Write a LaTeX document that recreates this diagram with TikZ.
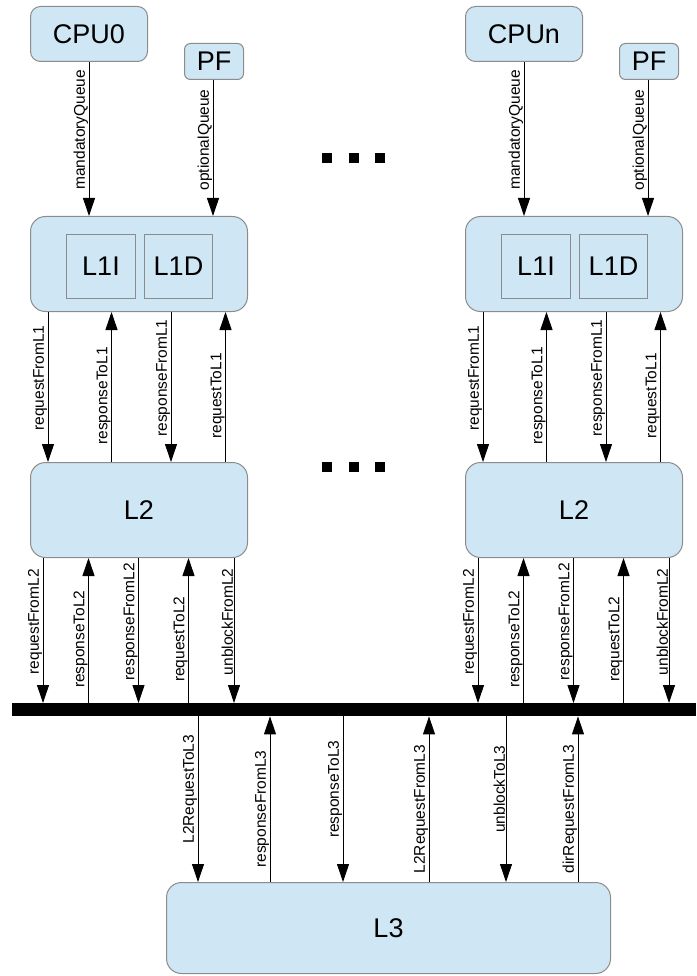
\documentclass[tikz,border=0pt]{standalone}
\usepackage{fontspec}
\setmainfont{Liberation Sans}
\usepackage{tikz}
\usetikzlibrary{arrows.meta}
\usetikzlibrary{positioning}
\definecolor{cachefill}{HTML}{CFE6F4}
\definecolor{cacheline}{HTML}{8C8C8C}

\begin{document}
\begin{tikzpicture}
          [x=1pt, y=1pt,
           cache/.style={draw=cacheline, fill=cachefill, line width=1pt, rounded corners=15pt,
                         inner sep=0pt, font=\fontsize{27}{32}\selectfont},
           bank/.style={draw=cacheline, fill=cachefill, line width=1pt, inner sep=0pt,
                        minimum height=64pt, font=\fontsize{27}{32}\selectfont},
           msg/.style={draw=black, line width=0.9pt, -{Triangle[length=18pt, width=12pt]}},
           lbl/.style={pos=.44, rotate=90, anchor=south, inner sep=1pt, outer sep=0pt,
                       font=\fontsize{15.5}{18}\selectfont}]
          \useasboundingbox (0,0) rectangle (696,-976);

          % shared bus and L3
          \node (bus) [fill=black, inner sep=0pt, minimum width=684pt, minimum height=13pt, anchor=north west] at (12,-703) {};
          \node (L3) [cache, minimum width=444pt, minimum height=91pt, anchor=north west] at (166,-882) {L3};

          \foreach \c/\cpu/\x in {a/CPU0/30, b/CPUn/465} {
            \node (cpu\c) [cache, rounded corners=10pt, minimum width=117pt, minimum height=55pt, anchor=north west] at (\x,-6) {\cpu};
            \node (pf\c) [cache, rounded corners=6pt, minimum width=59pt, minimum height=36pt, anchor=north west] at ({\x+154},-43) {PF};
            \node (L1\c) [cache, minimum width=217pt, minimum height=95pt, below=154pt of cpu\c.south west, anchor=north west] {};
            \node (l1i\c) [bank, minimum width=69pt, below right=18pt and 36pt of L1\c.north west] {L1I};
            \node (l1d\c) [bank, minimum width=68pt, right=8pt of l1i\c] {L1D};
            \node (L2\c) [cache, minimum width=217pt, minimum height=95pt, below=150pt of L1\c] {L2};

            \draw[msg] (cpu\c.south) -- (cpu\c.south |- L1\c.north) node[lbl] {mandatoryQueue};
            \draw[msg] ([xshift=-1pt]pf\c.south) -- ([xshift=-1pt]pf\c.south |- L1\c.north) node[lbl] {optionalQueue};

            \draw[msg] ([xshift=18pt]L1\c.south west) -- ([xshift=18pt]L1\c.south west |- L2\c.north) node[lbl] {requestFromL1};
            \draw[msg] ([xshift=81.5pt]L1\c.south west |- L2\c.north) -- ([xshift=81.5pt]L1\c.south west) node[lbl] {responseToL1};
            \draw[msg] ([xshift=141pt]L1\c.south west) -- ([xshift=141pt]L1\c.south west |- L2\c.north) node[lbl] {responseFromL1};
            \draw[msg] ([xshift=195.5pt]L1\c.south west |- L2\c.north) -- ([xshift=195.5pt]L1\c.south west) node[lbl] {requestToL1};

            \draw[msg] ([xshift=13pt]L2\c.south west) -- ([xshift=13pt]L2\c.south west |- bus.north) node[lbl] {requestFromL2};
            \draw[msg] ([xshift=58.5pt]L2\c.south west |- bus.north) -- ([xshift=58.5pt]L2\c.south west) node[lbl] {responseToL2};
            \draw[msg] ([xshift=108.5pt]L2\c.south west) -- ([xshift=108.5pt]L2\c.south west |- bus.north) node[lbl] {responseFromL2};
            \draw[msg] ([xshift=158.5pt]L2\c.south west |- bus.north) -- ([xshift=158.5pt]L2\c.south west) node[lbl] {requestToL2};
            \draw[msg] ([xshift=204pt]L2\c.south west) -- ([xshift=204pt]L2\c.south west |- bus.north) node[lbl] {unblockFromL2};
          }

          \draw[msg] ([xshift=32pt]L3.north west |- bus.south) -- ([xshift=32pt]L3.north west) node[lbl] {L2RequestToL3};
          \draw[msg] ([xshift=104pt]L3.north west) -- ([xshift=104pt]L3.north west |- bus.south) node[lbl] {responseFromL3};
          \draw[msg] ([xshift=177pt]L3.north west |- bus.south) -- ([xshift=177pt]L3.north west) node[lbl] {responseToL3};
          \draw[msg] ([xshift=263pt]L3.north west) -- ([xshift=263pt]L3.north west |- bus.south) node[lbl] {L2RequestFromL3};
          \draw[msg] ([xshift=340pt]L3.north west |- bus.south) -- ([xshift=340pt]L3.north west) node[lbl] {unblockToL3};
          \draw[msg] ([xshift=412pt]L3.north west) -- ([xshift=412pt]L3.north west |- bus.south) node[lbl] {dirRequestFromL3};

          % more cores
          \foreach \y in {-158,-467}
            \foreach \x in {327,354,380}
              \fill ({\x-5},{\y-5}) rectangle ++(10,10);
        \end{tikzpicture}
\end{document}
